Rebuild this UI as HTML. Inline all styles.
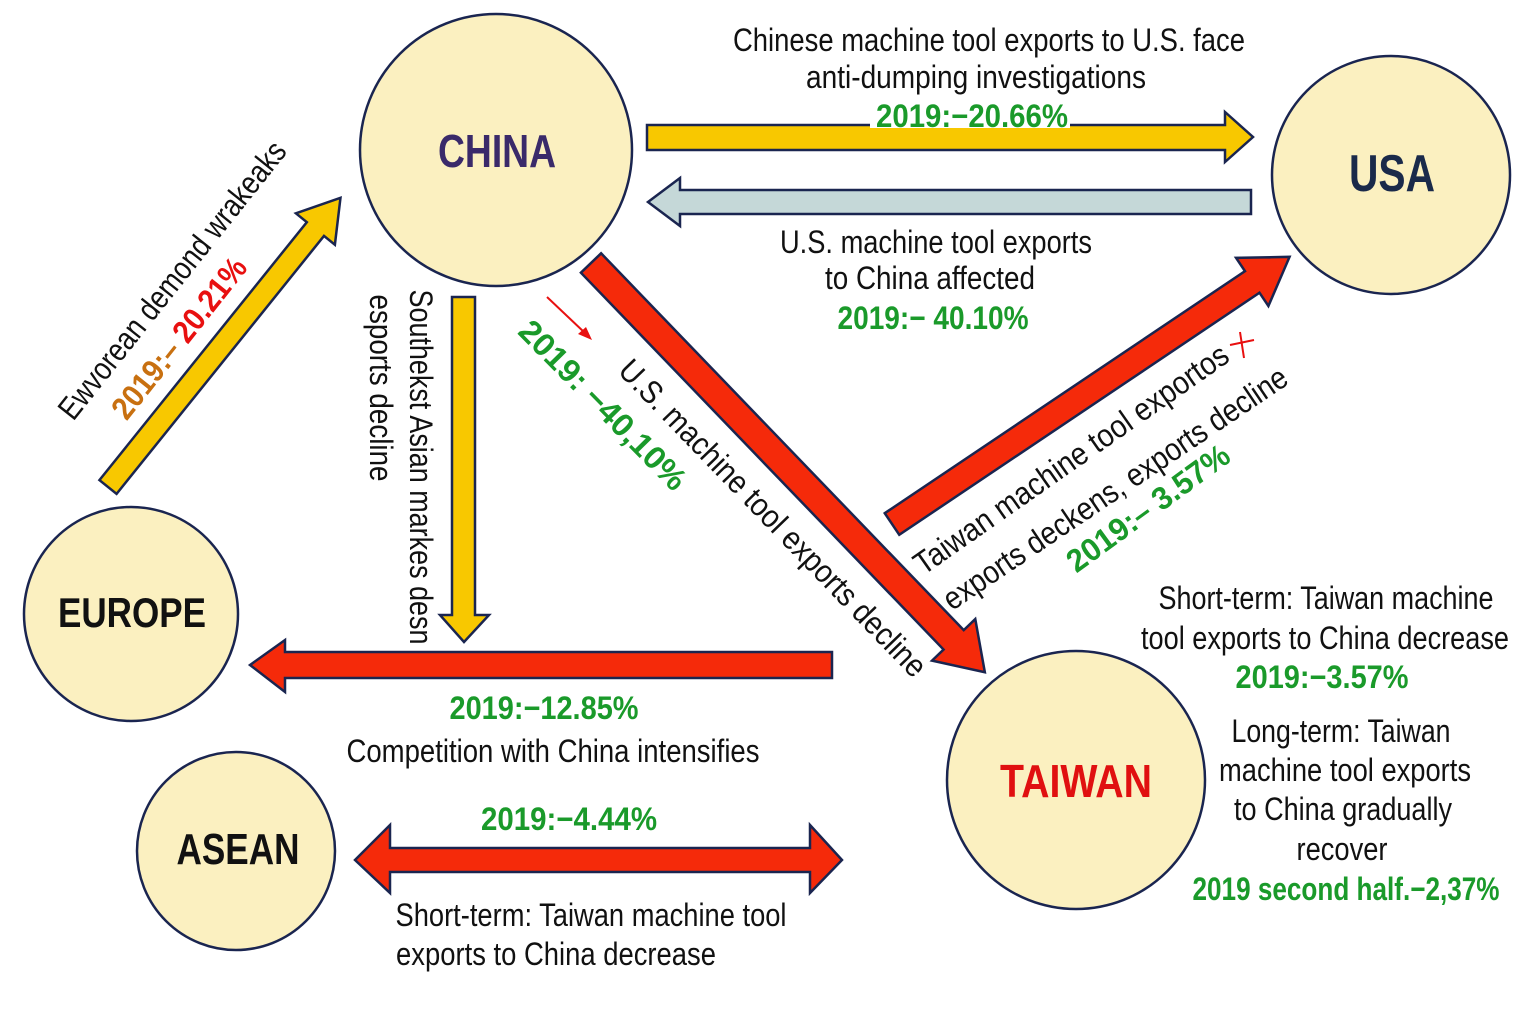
<!DOCTYPE html>
<html><head><meta charset="utf-8"><style>
html,body{margin:0;padding:0;background:#fff;}
svg{display:block;}
text{font-family:"Liberation Sans Narrow","Liberation Sans",sans-serif;}
.t{font-size:32px;fill:#111;}
.g{font-size:32px;fill:#1a9a2a;font-weight:bold;}
.n{font-weight:bold;}
</style></head><body>
<svg width="1536" height="1024" viewBox="0 0 1536 1024" xmlns="http://www.w3.org/2000/svg">
<g stroke="#1a2550" stroke-width="2.5" fill="#fbf0c0">
<circle cx="496" cy="150" r="136"/>
<circle cx="1391" cy="175" r="119"/>
<circle cx="131" cy="614" r="107"/>
<circle cx="236" cy="851" r="99"/>
<circle cx="1076" cy="780" r="129"/>
</g>
<g stroke="#1a2550" stroke-width="2.5" stroke-linejoin="miter">
<polygon fill="#f8c800" points="647,125 1225,125 1225,112 1253,137 1225,162 1225,150 647,150"/>
<polygon fill="#c5d8d8" points="1251,190 680,190 680,178 648,202 680,226 680,214 1251,214"/>
<polygon fill="#f8c800" points="452,297 475,297 475,615 489,615 464,642 440,615 452,615"/>
<polygon fill="#f52a0a" points="832,652 285,652 285,640 250,665 285,692 285,678 832,678"/>
<polygon fill="#f52a0a" points="390,848 810,848 810,825 842,860 810,893 810,872 390,872 390,893 355,860 390,825"/>
<g transform="translate(108,487) rotate(-51.2)">
<polygon fill="#f8c800" points="0,-11 331,-11 331,-25 371,0 331,25 331,11 0,11"/>
</g>
<g transform="translate(591,263) rotate(46.1)">
<polygon fill="#f52a0a" points="0,-14 523,-14 523,-30 568,0 523,30 523,14 0,14"/>
</g>
<g transform="translate(892,524) rotate(-33.9)">
<polygon fill="#f52a0a" points="0,-13 434,-13 434,-29 479,0 434,29 434,13 0,13"/>
</g>
</g>
<line x1="547" y1="297" x2="585" y2="333" stroke="#e81010" stroke-width="2"/>
<polygon points="592,340 578,334 586,327" fill="#e81010"/>
<g stroke="#e81010" stroke-width="2"><line x1="1230" y1="345" x2="1254" y2="340"/><line x1="1240" y1="332" x2="1244" y2="358"/></g>

<text x="497" y="167" text-anchor="middle" class="n" font-size="46" fill="#3a2a6a" textLength="118" lengthAdjust="spacingAndGlyphs">CHINA</text>
<text x="1392" y="191" text-anchor="middle" class="n" font-size="52" fill="#1a2a4a" textLength="86" lengthAdjust="spacingAndGlyphs">USA</text>
<text x="132" y="627" text-anchor="middle" class="n" font-size="42" fill="#111" textLength="148" lengthAdjust="spacingAndGlyphs">EUROPE</text>
<text x="238" y="864" text-anchor="middle" class="n" font-size="44" fill="#111" textLength="123" lengthAdjust="spacingAndGlyphs">ASEAN</text>
<text x="1076" y="797" text-anchor="middle" class="n" font-size="46" fill="#e01010" textLength="152" lengthAdjust="spacingAndGlyphs">TAIWAN</text>

<text x="989" y="51" text-anchor="middle" class="t" textLength="512" lengthAdjust="spacingAndGlyphs">Chinese machine tool exports to U.S. face</text>
<text x="976" y="88" text-anchor="middle" class="t" textLength="340" lengthAdjust="spacingAndGlyphs">anti-dumping investigations</text>
<rect x="870" y="100" width="200" height="28" fill="#fff"/>
<text x="972" y="127" text-anchor="middle" class="g" textLength="192" lengthAdjust="spacingAndGlyphs">2019:−20.66%</text>
<text x="936" y="253" text-anchor="middle" class="t" textLength="312" lengthAdjust="spacingAndGlyphs">U.S. machine tool exports</text>
<text x="930" y="289" text-anchor="middle" class="t" textLength="210" lengthAdjust="spacingAndGlyphs">to China affected</text>
<text x="933" y="329" text-anchor="middle" class="g" textLength="191" lengthAdjust="spacingAndGlyphs">2019:− 40.10%</text>

<text x="1326" y="609" text-anchor="middle" class="t" textLength="335" lengthAdjust="spacingAndGlyphs">Short-term: Taiwan machine</text>
<text x="1325" y="649" text-anchor="middle" class="t" textLength="368" lengthAdjust="spacingAndGlyphs">tool exports to China decrease</text>
<text x="1322" y="688" text-anchor="middle" class="g" textLength="173" lengthAdjust="spacingAndGlyphs">2019:−3.57%</text>
<text x="1341" y="742" text-anchor="middle" class="t" textLength="219" lengthAdjust="spacingAndGlyphs">Long-term: Taiwan</text>
<text x="1345" y="781" text-anchor="middle" class="t" textLength="252" lengthAdjust="spacingAndGlyphs">machine tool exports</text>
<text x="1343" y="820" text-anchor="middle" class="t" textLength="218" lengthAdjust="spacingAndGlyphs">to China gradually</text>
<text x="1342" y="860" text-anchor="middle" class="t" textLength="91" lengthAdjust="spacingAndGlyphs">recover</text>
<text x="1346" y="900" text-anchor="middle" class="g" textLength="307" lengthAdjust="spacingAndGlyphs">2019 second half.−2,37%</text>

<text x="544" y="719" text-anchor="middle" class="g" textLength="189" lengthAdjust="spacingAndGlyphs">2019:−12.85%</text>
<text x="553" y="762" text-anchor="middle" class="t" textLength="413" lengthAdjust="spacingAndGlyphs">Competition with China intensifies</text>
<text x="569" y="830" text-anchor="middle" class="g" textLength="176" lengthAdjust="spacingAndGlyphs">2019:−4.44%</text>
<text x="591" y="926" text-anchor="middle" class="t" textLength="391" lengthAdjust="spacingAndGlyphs">Short-term: Taiwan machine tool</text>
<text x="556" y="965" text-anchor="middle" class="t" textLength="320" lengthAdjust="spacingAndGlyphs">exports to China decrease</text>

<g transform="translate(172,280) rotate(-51.5)">
<text x="0" y="11" text-anchor="middle" class="t" textLength="345" lengthAdjust="spacingAndGlyphs">Ewvorean demond wrakeaks</text>
</g>
<g transform="translate(179,338) rotate(-51.5)">
<text x="0" y="11" text-anchor="middle" font-size="32" font-weight="bold" textLength="196" lengthAdjust="spacingAndGlyphs"><tspan fill="#c87010">2019:–</tspan><tspan fill="#e81010"> 20.21%</tspan></text>
</g>
<g transform="translate(421,467) rotate(90)">
<text x="0" y="11" text-anchor="middle" class="t" textLength="355" lengthAdjust="spacingAndGlyphs">Southekst Asian markes desn</text>
</g>
<g transform="translate(381,388) rotate(90)">
<text x="0" y="11" text-anchor="middle" class="t" textLength="187" lengthAdjust="spacingAndGlyphs">esports decline</text>
</g>
<g transform="translate(603,405) rotate(45.5)">
<text x="0" y="11" text-anchor="middle" class="g" font-size="34" textLength="224" lengthAdjust="spacingAndGlyphs">2019: −40,10%</text>
</g>
<g transform="translate(773,518) rotate(46)">
<text x="0" y="11" text-anchor="middle" class="t" textLength="427" lengthAdjust="spacingAndGlyphs">U.S. machine tool exports decline</text>
</g>
<g transform="translate(1071,459) rotate(-35)">
<text x="0" y="11" text-anchor="middle" class="t" textLength="376" lengthAdjust="spacingAndGlyphs">Taiwan machine tool exportos</text>
</g>
<g transform="translate(1115,488) rotate(-34)">
<text x="0" y="11" text-anchor="middle" class="t" textLength="408" lengthAdjust="spacingAndGlyphs">exports deckens, exports decline</text>
</g>
<g transform="translate(1148,508) rotate(-36)">
<text x="0" y="11" text-anchor="middle" class="g" textLength="193" lengthAdjust="spacingAndGlyphs">2019:– 3.57%</text>
</g>
</svg>
</body></html>
